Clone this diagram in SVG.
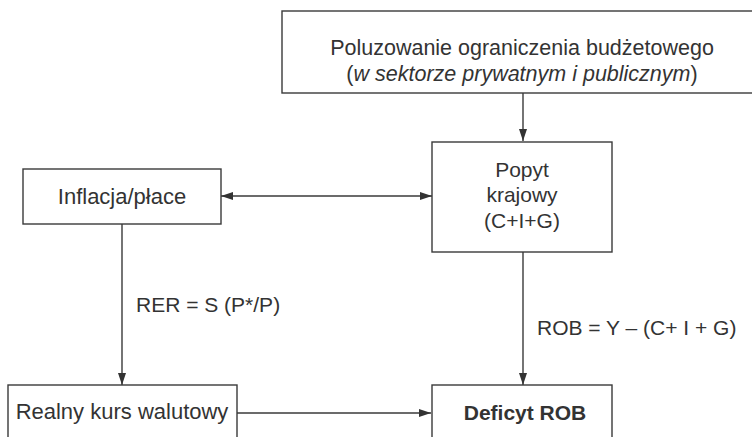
<svg xmlns="http://www.w3.org/2000/svg" width="752" height="437" viewBox="0 0 752 437">
<style>
.box{fill:#fff;stroke:#3a3a3a;stroke-width:1.4}
.ln{fill:none;stroke:#3a3a3a;stroke-width:1.4}
text{font-family:"Liberation Sans",Arial,sans-serif;font-size:21px;fill:#333}
.c{text-anchor:middle}
.b{font-weight:bold}
.w{font-size:22px}
</style>
<defs>
<marker id="ah" viewBox="0 0 12 8" refX="12" refY="4" markerWidth="12" markerHeight="8" markerUnits="userSpaceOnUse" orient="auto-start-reverse">
<path d="M0,0 L12,4 L0,8 Z" fill="#333"/>
</marker>
</defs>
<rect width="752" height="437" fill="#fff"/>
<g id="connectors">
<line class="ln" x1="523" y1="93" x2="523" y2="141" marker-end="url(#ah)"/>
<line class="ln" x1="221" y1="196" x2="432" y2="196" marker-start="url(#ah)" marker-end="url(#ah)"/>
<line class="ln" x1="122" y1="224" x2="122" y2="385" marker-end="url(#ah)"/>
<line class="ln" x1="523" y1="252" x2="523" y2="385" marker-end="url(#ah)"/>
<line class="ln" x1="237" y1="413" x2="431" y2="413" marker-end="url(#ah)"/>
<text x="136" y="312">RER = S (P*/P)</text>
<text x="537" y="335">ROB = Y – (C+ I + G)</text>
</g>
<g id="top">
<rect class="box" x="282" y="11" width="480" height="82"/>
<text class="c" x="522" y="55" style="font-size:21.5px">Poluzowanie ograniczenia budżetowego</text>
<text class="c" x="522" y="81" style="font-size:21.5px">(<tspan font-style="italic">w sektorze prywatnym i publicznym</tspan>)</text>
</g>
<g id="inflacja">
<rect class="box" x="23" y="169" width="198" height="55"/>
<text class="c w" x="122" y="204">Inflacja/płace</text>
</g>
<g id="popyt">
<rect class="box" x="432" y="142" width="180" height="110"/>
<text class="c" x="522" y="177">Popyt</text>
<text class="c" x="522" y="202">krajowy</text>
<text class="c" x="522" y="228">(C+I+G)</text>
</g>
<g id="realny">
<rect class="box" x="8" y="385" width="229" height="70"/>
<text class="c w" x="122" y="419">Realny kurs walutowy</text>
</g>
<g id="deficyt">
<rect class="box" x="432" y="385" width="180" height="70"/>
<text class="c b" x="525" y="420">Deficyt ROB</text>
</g>
</svg>
